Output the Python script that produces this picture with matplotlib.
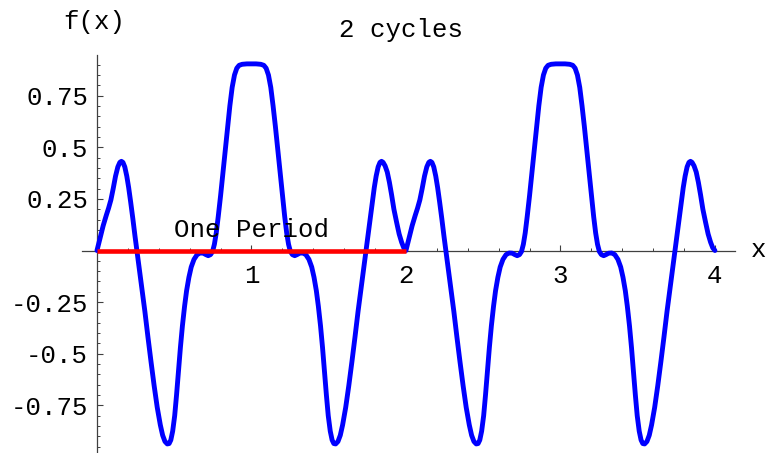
import numpy as np
import matplotlib
matplotlib.use("Agg")
import matplotlib.pyplot as plt
from matplotlib.ticker import FixedLocator, MultipleLocator

# One period of f(x) on [0, 2], sampled along the curve
x_period = [
    0.000, 0.020, 0.040, 0.060, 0.075, 0.090, 0.105, 0.120, 0.135, 0.148,
    0.158, 0.168, 0.180, 0.193, 0.205, 0.218, 0.232, 0.246, 0.260, 0.275,
    0.290, 0.310, 0.330, 0.350, 0.370, 0.390, 0.410, 0.425, 0.440, 0.455,
    0.467, 0.478, 0.490, 0.503, 0.515, 0.527, 0.540, 0.553, 0.567, 0.580,
    0.595, 0.610, 0.628, 0.648, 0.668, 0.688, 0.705, 0.720, 0.735, 0.748,
    0.760, 0.772, 0.785, 0.800, 0.815, 0.830, 0.845, 0.860, 0.875, 0.890,
    0.905, 0.920, 0.940, 0.970, 1.000,
    1.030, 1.060, 1.080, 1.095, 1.110, 1.125, 1.140, 1.155, 1.170, 1.185,
    1.200, 1.215, 1.228, 1.240, 1.252, 1.265, 1.280, 1.295, 1.312, 1.332,
    1.352, 1.372, 1.390, 1.405, 1.420, 1.433, 1.447, 1.460, 1.473, 1.485,
    1.497, 1.510, 1.522, 1.533, 1.545, 1.560, 1.575, 1.590, 1.610, 1.630,
    1.650, 1.670, 1.690, 1.710, 1.725, 1.740, 1.754, 1.768, 1.782, 1.795,
    1.807, 1.820, 1.832, 1.842, 1.852, 1.865, 1.879, 1.893, 1.907, 1.922,
    1.940, 1.956, 1.972, 1.986, 2.000,
]
y_period = [
    0.000, 0.060, 0.120, 0.170, 0.205, 0.245, 0.300, 0.360, 0.405, 0.427,
    0.432, 0.427, 0.405, 0.360, 0.305, 0.235, 0.155, 0.070, -0.010, -0.095,
    -0.180, -0.295, -0.420, -0.540, -0.655, -0.760, -0.845, -0.895, -0.925, -0.937,
    -0.935, -0.918, -0.875, -0.800, -0.700, -0.590, -0.470, -0.365, -0.270, -0.195,
    -0.130, -0.080, -0.043, -0.020, -0.012, -0.013, -0.020, -0.025, -0.020, -0.005,
    0.030, 0.085, 0.165, 0.265, 0.375, 0.490, 0.600, 0.700, 0.790, 0.850,
    0.883, 0.897, 0.902, 0.904, 0.904,
    0.904, 0.902, 0.897, 0.883, 0.850, 0.790, 0.700, 0.600, 0.490, 0.375,
    0.265, 0.165, 0.085, 0.030, -0.005, -0.020, -0.025, -0.020, -0.013, -0.012,
    -0.020, -0.043, -0.080, -0.130, -0.195, -0.270, -0.365, -0.470, -0.590, -0.700,
    -0.800, -0.875, -0.918, -0.935, -0.937, -0.925, -0.895, -0.845, -0.760, -0.655,
    -0.540, -0.420, -0.295, -0.180, -0.095, -0.010, 0.070, 0.155, 0.235, 0.305,
    0.360, 0.405, 0.427, 0.432, 0.427, 0.410, 0.380, 0.330, 0.270, 0.200,
    0.135, 0.080, 0.040, 0.013, 0.000,
]
n_cycles = 2
period = 2.0

# "One Period" marker segment
period_start, period_end = 0.0, 2.0

x_major_ticks = [1, 2, 3, 4]
x_major_labels = ["1", "2", "3", "4"]
y_major_ticks = [-0.75, -0.5, -0.25, 0.25, 0.5, 0.75]
y_major_labels = ["-0.75", "-0.5", "-0.25", "0.25", "0.5", "0.75"]

title_text = "2 cycles"
xlabel_text = "x"
ylabel_text = "f(x)"
period_text = "One Period"

# repeat the period to cover all cycles
xs = np.concatenate([np.asarray(x_period[(1 if k else 0):]) + k * period
                     for k in range(n_cycles)])
ys = np.concatenate([np.asarray(y_period[(1 if k else 0):])
                     for k in range(n_cycles)])

W, H, DPI = 767, 453, 100
fig = plt.figure(figsize=(W / DPI, H / DPI), dpi=DPI)
fig.patch.set_facecolor("white")

font = ["Liberation Mono", "DejaVu Sans Mono"]
fs = 18.5

ax_l, ax_r, ax_t, ax_b = 82, 735, 55, 452
ax = fig.add_axes([ax_l / W, 1 - ax_b / H, (ax_r - ax_l) / W, (ax_b - ax_t) / H])
ax.set_facecolor("none")
ax.set_xlim(-0.097, 4.13)
ax.set_ylim(-0.976, 0.947)

axis_color = "#404040"
for side in ("top", "right"):
    ax.spines[side].set_visible(False)
ax.spines["left"].set_position(("data", 0))
ax.spines["bottom"].set_position(("data", 0))
for side in ("left", "bottom"):
    ax.spines[side].set_color(axis_color)
    ax.spines[side].set_linewidth(0.9)

ax.plot(xs, ys, color="#0000ff", lw=3.5, solid_joinstyle="round",
        solid_capstyle="round", zorder=3)
ax.plot([period_start, period_end], [0, 0], color="#ff0000", lw=3.3,
        solid_capstyle="butt", zorder=4)

ax.xaxis.set_major_locator(FixedLocator(x_major_ticks))
ax.set_xticklabels(x_major_labels)
ax.xaxis.set_minor_locator(MultipleLocator(0.2))
ax.yaxis.set_major_locator(FixedLocator(y_major_ticks))
ax.set_yticklabels(y_major_labels)
ax.yaxis.set_minor_locator(MultipleLocator(0.05))

ax.tick_params(axis="x", which="major", direction="in", length=4, width=0.8,
               color=axis_color, pad=10.0, labelsize=fs)
ax.tick_params(axis="x", which="minor", direction="in", length=2.5, width=0.7,
               color=axis_color)
ax.tick_params(axis="y", which="major", direction="in", length=4, width=0.8,
               color=axis_color, pad=6.3, labelsize=fs)
ax.tick_params(axis="y", which="minor", direction="in", length=2.5, width=0.7,
               color=axis_color)
for lab in ax.get_xticklabels() + ax.get_yticklabels():
    lab.set_family(font)

ax.text((period_start + period_end) / 2, 0.067, period_text, ha="center",
        va="baseline", family=font, fontsize=fs, zorder=5)

fig.text(401 / W, 1 - 37 / H, title_text, ha="center", va="baseline",
         family=font, fontsize=fs)
fig.text(94 / W, 1 - 29 / H, ylabel_text, ha="center", va="baseline",
         family=font, fontsize=fs)
fig.text(759 / W, 1 - 256.7 / H, xlabel_text, ha="center", va="baseline",
         family=font, fontsize=fs)

fig.savefig("out.png", dpi=DPI, facecolor="white")
